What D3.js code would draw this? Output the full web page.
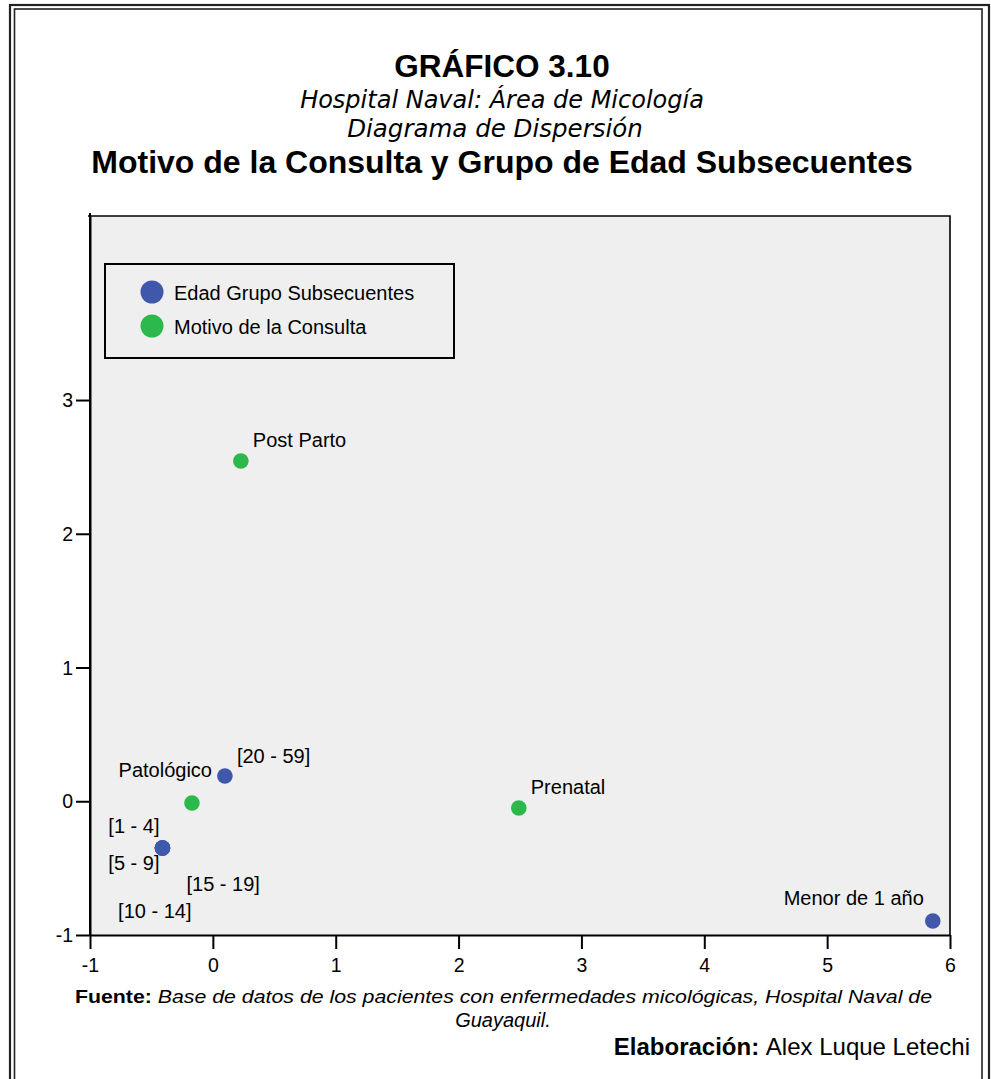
<!DOCTYPE html>
<html>
<head>
<meta charset="utf-8">
<script src="https://cdn.jsdelivr.net/npm/d3@7"></script>
<style>
  html, body { margin: 0; padding: 0; background: #fff; }
  svg { display: block; }
</style>
</head>
<body>
<svg id="chart" width="991" height="1079"></svg>
<script>
// ---- data ----
const seriesNames = ["Edad Grupo Subsecuentes", "Motivo de la Consulta"];
const ageLabels = ["[20 - 59]", "[1 - 4]", "[5 - 9]", "[10 - 14]", "[15 - 19]", "Menor de 1 año"];
const ageX = [0.098, -0.41, -0.41, -0.41, -0.41, 5.86];
const ageY = [0.189, -0.35, -0.35, -0.35, -0.35, -0.895];
const motivoLabels = ["Post Parto", "Patológico", "Prenatal"];
const motivoX = [0.228, -0.17, 2.49];
const motivoY = [2.544, -0.013, -0.05];
const xTicks = [-1, 0, 1, 2, 3, 4, 5, 6];
const yTicks = [-1, 0, 1, 2, 3];

// ---- layout / style ----
const plot = { left: 90, right: 950, top: 216, bottom: 935 };
const colors = { age: "#3f58ab", motivo: "#2db84b" };
const FONT = "'Liberation Sans', Arial, sans-serif";
const SUBFONT = "'DejaVu Sans', Verdana, sans-serif";

// label placement (pixel offsets relative to point)
const labelPlacement = {
  "[20 - 59]": { dx: 12, dy: -20, anchor: "start" },
  "[1 - 4]": { dx: -3, dy: -22, anchor: "end" },
  "[5 - 9]": { dx: -3, dy: 15, anchor: "end" },
  "[15 - 19]": { dx: 24, dy: 36, anchor: "start" },
  "[10 - 14]": { dx: 29, dy: 63, anchor: "end" },
  "Menor de 1 año": { dx: -9, dy: -23, anchor: "end" },
  "Post Parto": { dx: 12, dy: -21, anchor: "start" },
  "Patológico": { dx: 20, dy: -33, anchor: "end" },
  "Prenatal": { dx: 12, dy: -21, anchor: "start" }
};

const svg = d3.select("#chart");

// outer double frame
svg.append("rect").attr("x", 10).attr("y", 5).attr("width", 979).attr("height", 1090)
  .attr("fill", "none").attr("stroke", "#222").attr("stroke-width", 2.2);
svg.append("rect").attr("x", 14.5).attr("y", 9).attr("width", 967.5).attr("height", 1090)
  .attr("fill", "none").attr("stroke", "#222").attr("stroke-width", 1.6);

// titles
svg.append("text").attr("x", 502).attr("y", 77).attr("text-anchor", "middle")
  .style("font-family", FONT).style("font-weight", "bold").style("font-size", "31.5px")
  .text("GRÁFICO 3.10");
svg.append("text").attr("x", 502).attr("y", 108).attr("text-anchor", "middle")
  .style("font-family", SUBFONT).style("font-style", "italic").style("font-size", "24px")
  .text("Hospital Naval: Área de Micología");
svg.append("text").attr("x", 495).attr("y", 137).attr("text-anchor", "middle")
  .style("font-family", SUBFONT).style("font-style", "italic").style("font-size", "24.5px")
  .text("Diagrama de Dispersión");
svg.append("text").attr("x", 502).attr("y", 173).attr("text-anchor", "middle")
  .style("font-family", FONT).style("font-weight", "bold").style("font-size", "32px")
  .text("Motivo de la Consulta y Grupo de Edad Subsecuentes");

// scales
const x = d3.scaleLinear().domain([-1, 6]).range([plot.left, plot.right]);
const y = d3.scaleLinear().domain([-1, 4.376]).range([plot.bottom, plot.top]);

// plot background
svg.append("rect").attr("x", plot.left).attr("y", plot.top)
  .attr("width", plot.right - plot.left).attr("height", plot.bottom - plot.top)
  .attr("fill", "#efefef");
// top & right frame
svg.append("path")
  .attr("d", `M${plot.left - 2},${plot.top} H${plot.right} V${plot.bottom}`)
  .attr("fill", "none").attr("stroke", "#000").attr("stroke-width", 1.6);

// axes
const fmt = d => String(d);
const xAxis = d3.axisBottom(x).tickValues(xTicks).tickFormat(fmt).tickSize(14).tickSizeOuter(0);
const yAxis = d3.axisLeft(y).tickValues(yTicks).tickFormat(fmt).tickSize(14).tickSizeOuter(0);

const gx = svg.append("g").attr("transform", `translate(0,${plot.bottom})`).call(xAxis);
const gy = svg.append("g").attr("transform", `translate(${plot.left},0)`).call(yAxis);
[gx, gy].forEach(g => {
  g.select(".domain").attr("stroke", "#000").attr("stroke-width", 2);
  g.selectAll(".tick line").attr("stroke", "#000").attr("stroke-width", 2);
  g.selectAll(".tick text").style("font-family", FONT).style("font-size", "19.5px").attr("fill", "#000");
});
gx.selectAll(".tick text").attr("y", 23).attr("dy", "0.71em");
gy.selectAll(".tick text").attr("x", -17).attr("dy", "0.34em");
svg.append("line").attr("x1", plot.left).attr("x2", plot.left).attr("y1", plot.top - 3).attr("y2", plot.bottom)
  .attr("stroke", "#000").attr("stroke-width", 2);

// points
const ageData = ageLabels.map((l, i) => ({ label: l, x: ageX[i], y: ageY[i], s: "age" }));
const motivoData = motivoLabels.map((l, i) => ({ label: l, x: motivoX[i], y: motivoY[i], s: "motivo" }));
const all = motivoData.concat(ageData);

svg.append("g").selectAll("circle").data(all).join("circle")
  .attr("cx", d => x(d.x)).attr("cy", d => y(d.y)).attr("r", 7.8)
  .attr("fill", d => colors[d.s]);

svg.append("g").selectAll("text").data(all).join("text")
  .attr("x", d => x(d.x) + labelPlacement[d.label].dx)
  .attr("y", d => y(d.y) + labelPlacement[d.label].dy)
  .attr("dy", "0.35em")
  .attr("text-anchor", d => labelPlacement[d.label].anchor)
  .style("font-family", FONT).style("font-size", "20px").attr("fill", "#000")
  .text(d => d.label);

// legend
const lg = svg.append("g");
lg.append("rect").attr("x", 105).attr("y", 264).attr("width", 349).attr("height", 94)
  .attr("fill", "none").attr("stroke", "#000").attr("stroke-width", 2);
const legendKeys = ["age", "motivo"];
seriesNames.forEach((n, i) => {
  lg.append("circle").attr("cx", 152).attr("cy", 292 + i * 34).attr("r", 11.5).attr("fill", colors[legendKeys[i]]);
  lg.append("text").attr("x", 174).attr("y", 293 + i * 34).attr("dy", "0.35em")
    .style("font-family", FONT).style("font-size", "20px").text(n);
});

// footer
const f1 = svg.append("text").attr("x", 75).attr("y", 1003)
  .attr("textLength", 857).attr("lengthAdjust", "spacingAndGlyphs")
  .style("font-family", FONT).style("font-size", "19px");
f1.append("tspan").style("font-weight", "bold").text("Fuente: ");
f1.append("tspan").style("font-style", "italic").text("Base de datos de los pacientes con enfermedades micológicas, Hospital Naval de");
svg.append("text").attr("x", 503).attr("y", 1027).attr("text-anchor", "middle")
  .style("font-family", FONT).style("font-size", "20px").style("font-style", "italic").text("Guayaquil.");
const f2 = svg.append("text").attr("x", 970).attr("y", 1055).attr("text-anchor", "end")
  .style("font-family", FONT).style("font-size", "24px");
f2.append("tspan").style("font-weight", "bold").text("Elaboración: ");
f2.append("tspan").text("Alex Luque Letechi");
</script>
</body>
</html>
